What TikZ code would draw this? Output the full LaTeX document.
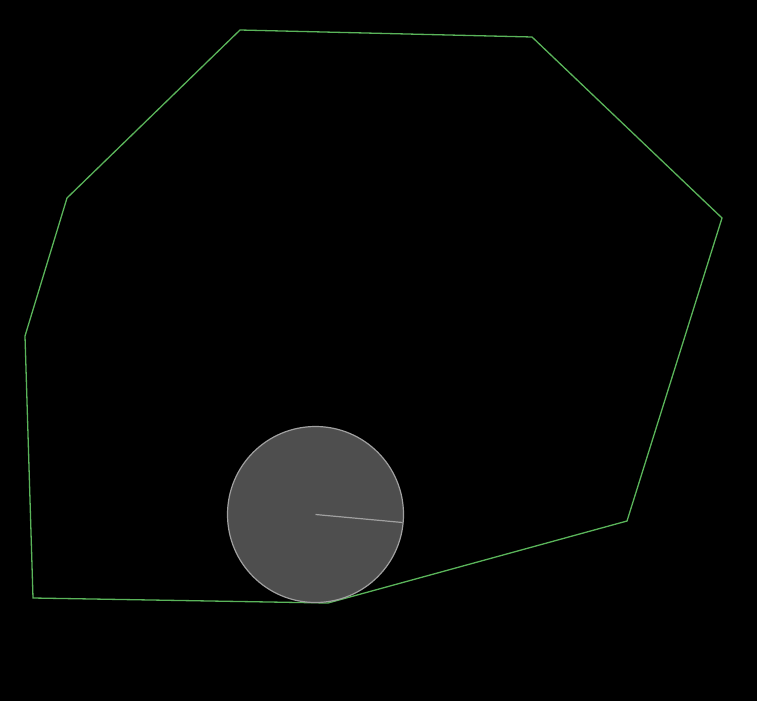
\documentclass[tikz,border=0pt]{standalone}
\usepackage{tikz}

\definecolor{hullgreen}{RGB}{90,180,90}
\definecolor{diskfill}{RGB}{78,78,78}
\definecolor{diskedge}{RGB}{160,160,160}

\tikzset{
    hull/.style={draw=hullgreen, line width=1.3pt, line join=miter},
    disk/.style={draw=diskedge, fill=diskfill, line width=1.2pt}
}

\begin{document}
\begin{tikzpicture}[x=1pt, y=-1pt]

% Background
\fill[black] (0,0) rectangle (757,701);
\useasboundingbox (0,0) rectangle (757,701);

% Polygon
\draw[hull] (240,30) -- (532,37) -- (722,218) -- (627,521)
    -- (328,603) -- (33,598) -- (25,336) -- (67,198) -- cycle;

% Disk and its radius
\coordinate (c) at (315.5,514.5);
\coordinate (r) at (402.5,522.5);
\draw[disk] (c) circle[radius=88];
\draw[diskedge, line width=1.2pt] (c) -- (r);

\end{tikzpicture}
\end{document}
